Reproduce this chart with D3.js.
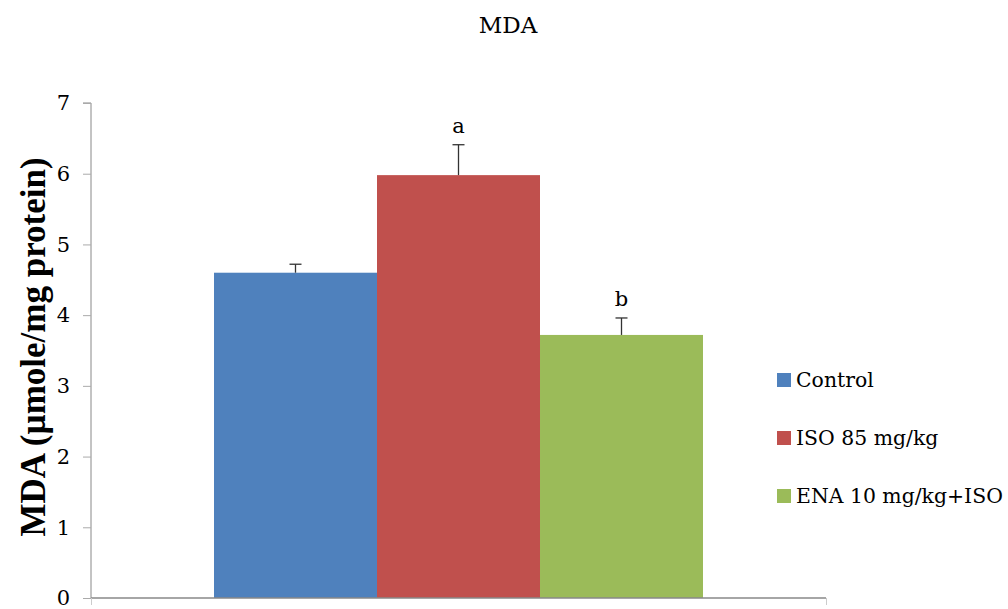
<!DOCTYPE html>
<html><head><meta charset="utf-8">
<script src="https://cdn.jsdelivr.net/npm/d3@7"></script>
<style>body{margin:0;background:#fff}</style>
</head><body>
<svg id="c" width="1008" height="609"></svg>
<script>
const categories = ["Control", "ISO 85 mg/kg", "ENA 10 mg/kg+ISO"];
const values = [4.60, 5.98, 3.72];
const errors = [0.12, 0.43, 0.24];
const sigLabels = ["", "a", "b"];
const colors = ["#4f81bd", "#c0504d", "#9bbb59"];
const yTicks = [0, 1, 2, 3, 4, 5, 6, 7];

(function () {
const svg = d3.select("#c");
const serif = "'DejaVu Serif', 'Liberation Serif', serif";
const pL = 91, pR = 826, pT = 103, pB = 598;

const y = d3.scaleLinear().domain([0, 7]).range([pB, pT]);
const x = d3.scaleBand().domain(categories).range([214, 703]).padding(0);

svg.selectAll("rect.bar").data(categories).enter().append("rect")
  .attr("x", d => x(d)).attr("width", x.bandwidth())
  .attr("y", (d, i) => y(values[i])).attr("height", (d, i) => y(0) - y(values[i]))
  .attr("fill", (d, i) => colors[i]);

const eb = svg.append("g").attr("stroke", "#333").attr("stroke-width", 1.3);
categories.forEach((c, i) => {
  const cx = x(c) + x.bandwidth() / 2;
  eb.append("line").attr("x1", cx).attr("x2", cx).attr("y1", y(values[i])).attr("y2", y(values[i] + errors[i]));
  eb.append("line").attr("x1", cx - 6).attr("x2", cx + 6).attr("y1", y(values[i] + errors[i])).attr("y2", y(values[i] + errors[i]));
  if (sigLabels[i]) {
    svg.append("text").attr("x", cx).attr("y", y(values[i] + errors[i]) - 12)
      .attr("text-anchor", "middle").attr("font-family", serif).attr("font-size", 21).attr("fill", "#000")
      .text(sigLabels[i]);
  }
});

const yAxis = d3.axisLeft(y).tickValues(yTicks).tickSize(8).tickPadding(13).tickFormat(d3.format("d"));
const gy = svg.append("g").attr("transform", `translate(${pL},0)`).call(yAxis);
gy.select(".domain").attr("stroke", "#888").attr("d", `M-8,${pT}H0V${pB}`);
gy.selectAll(".tick line").attr("stroke", "#aaa");
gy.selectAll(".tick text").attr("font-family", serif).attr("font-size", 21).attr("fill", "#000").attr("dy", "0.32em");

const xs = d3.scaleLinear().domain([0, 1]).range([pL, pR]);
const xAxis = d3.axisBottom(xs).tickValues([0, 1]).tickSize(7).tickFormat("");
const gx = svg.append("g").attr("transform", `translate(0,${pB})`).call(xAxis);
gx.select(".domain").attr("stroke", "#888").attr("stroke-width", 1.5).attr("d", `M${pL},0H${pR}`);
gx.selectAll(".tick line").attr("stroke", "#ccc");

svg.append("text").attr("x", 508).attr("y", 33).attr("text-anchor", "middle")
  .attr("font-family", serif).attr("font-size", 23).attr("fill", "#000").text("MDA");

svg.append("text").attr("transform", "translate(45,347) rotate(-90)").attr("text-anchor", "middle")
  .attr("font-family", "'Liberation Serif', 'Times New Roman', serif").attr("font-weight", "bold")
  .attr("font-size", 35).attr("fill", "#000").text("MDA (µmole/mg protein)");

const lg = svg.append("g");
categories.forEach((c, i) => {
  const ly = 380 + i * 58;
  lg.append("rect").attr("x", 777).attr("y", ly - 7).attr("width", 14).attr("height", 14).attr("fill", colors[i]);
  lg.append("text").attr("x", 796).attr("y", ly).attr("dy", "0.35em")
    .attr("font-family", serif).attr("font-size", 20.4).attr("fill", "#000").text(c);
});
})();
</script>
</body></html>
